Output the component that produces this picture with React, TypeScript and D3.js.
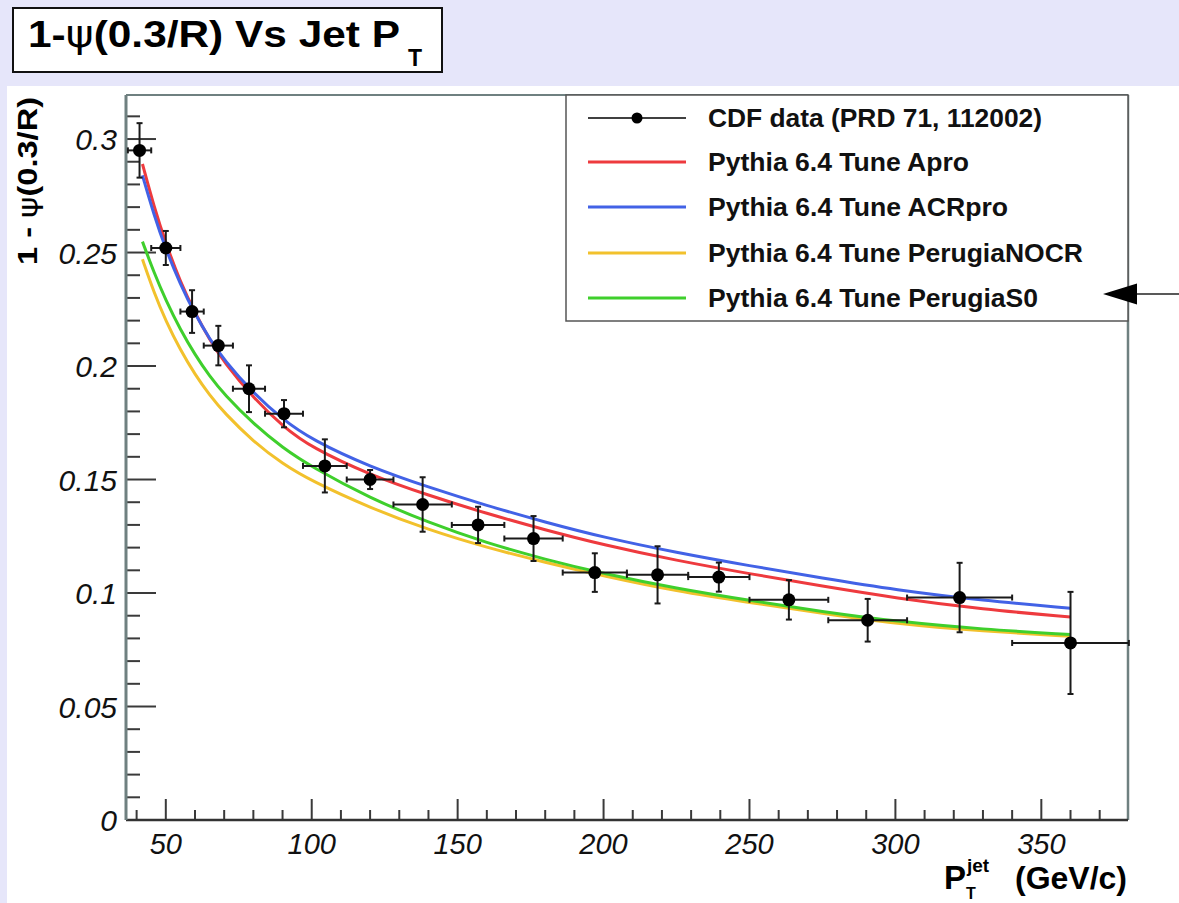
import React from 'react';
import * as d3 from 'd3';

// CDF data points
const ptCenters = [41, 50, 59, 68, 78.5, 90.5, 104.5, 120, 138, 157, 176, 197, 218.5, 239.5, 263.5, 290.5, 322, 360];
const ptHalfWidth = [4, 5, 4, 5, 5.5, 6.5, 7.5, 8, 10, 9, 10, 11, 10.5, 10.5, 13.5, 13.5, 18, 20];
const cdfValues = [0.295, 0.252, 0.224, 0.209, 0.190, 0.179, 0.156, 0.150, 0.139, 0.130, 0.124, 0.109, 0.108, 0.107, 0.097, 0.088, 0.098, 0.078];
const cdfErrors = [0.012, 0.0075, 0.0094, 0.0087, 0.0103, 0.006, 0.0117, 0.0042, 0.012, 0.008, 0.0099, 0.0085, 0.0126, 0.0064, 0.0087, 0.0094, 0.0153, 0.0225];

// Pythia tune curves
const curvePt = [42, 46, 50, 55, 60, 65, 70, 80, 90, 100, 120, 140, 160, 180, 200, 225, 250, 275, 300, 330, 360];
const tuneApro = [0.289, 0.270, 0.254, 0.237, 0.2234, 0.2116, 0.2015, 0.1860, 0.1735, 0.1640, 0.1520, 0.1430, 0.1350, 0.1278, 0.1212, 0.1143, 0.1085, 0.1030, 0.0978, 0.0928, 0.0894];
const tuneACRpro = [0.284, 0.2663, 0.2514, 0.2359, 0.2229, 0.212, 0.2026, 0.1880, 0.1765, 0.1675, 0.1555, 0.1466, 0.1385, 0.1312, 0.1245, 0.1178, 0.1120, 0.1066, 0.1014, 0.0967, 0.0933];
const tunePerugiaNOCR = [0.247, 0.2322, 0.2199, 0.207, 0.1963, 0.1872, 0.1794, 0.1667, 0.1569, 0.1493, 0.1375, 0.1278, 0.1200, 0.1135, 0.1075, 0.1008, 0.0958, 0.0911, 0.0865, 0.0832, 0.0809];
const tunePerugiaS0 = [0.2548, 0.241, 0.229, 0.216, 0.205, 0.1955, 0.1875, 0.1745, 0.1640, 0.1555, 0.1418, 0.1310, 0.1220, 0.1148, 0.1085, 0.1020, 0.0967, 0.0918, 0.0875, 0.0840, 0.0817];

const xMajorTicks = [50, 100, 150, 200, 250, 300, 350];
const yMajorTicks = [0, 0.05, 0.1, 0.15, 0.2, 0.25, 0.3];
const yTickLabels = ['0', '0.05', '0.1', '0.15', '0.2', '0.25', '0.3'];

const legendLabels = [
  'CDF data (PRD 71, 112002)',
  'Pythia 6.4 Tune Apro',
  'Pythia 6.4 Tune ACRpro',
  'Pythia 6.4 Tune PerugiaNOCR',
  'Pythia 6.4 Tune PerugiaS0',
];

const FONT = '"Liberation Sans", Arial, Helvetica, sans-serif';

export default function App() {
  const W = 1179;
  const H = 903;
  const left = 126, right = 1128, top = 95, bottom = 820;
  const x = d3.scaleLinear().domain([36.36, 379.7]).range([left, right]);
  const y = d3.scaleLinear().domain([0, 0.3194]).range([bottom, top]);

  const series = [
    { name: legendLabels[1], values: tuneApro, color: '#ee3a3e' },
    { name: legendLabels[2], values: tuneACRpro, color: '#4262e6' },
    { name: legendLabels[3], values: tunePerugiaNOCR, color: '#f2c12c' },
    { name: legendLabels[4], values: tunePerugiaS0, color: '#3fcf2c' },
  ];
  // draw order: yellow, green, red, blue
  const drawOrder = [2, 3, 0, 1];

  const line = d3
    .line<number>()
    .x((_, i) => x(curvePt[i]))
    .y((d) => y(d))
    .curve(d3.curveBasis);

  const xMinor = d3.range(40, 380, 10).filter((v) => v % 50 !== 0);
  const yMinor = d3.range(1, 32).map((v) => v / 100).filter((v) => Math.round(v * 100) % 5 !== 0 && v <= 0.3194);

  const axisColor = '#6f8080';
  const tickColor = '#3a3a3a';

  const legendRows = [118, 162, 207, 253, 298];
  const legendTextLen = [334, 261, 300, 375, 330];

  return (
    <svg
      width={W}
      height={H}
      viewBox={`0 0 ${W} ${H}`}
      style={{ position: 'absolute', left: 0, top: 0, display: 'block' }}
      fontFamily={FONT}
    >
      {/* backgrounds */}
      <rect x={0} y={0} width={W} height={H} fill="#e6e6fa" />
      <rect x={7} y={86} width={W - 7} height={H - 86} fill="#ffffff" />

      {/* title box */}
      <rect x={13} y={8} width={429} height={64} fill="#ffffff" stroke="#111" strokeWidth={2} />
      <text x={28} y={47} fontSize={37} fontWeight="bold" fill="#000" textLength={372} lengthAdjust="spacingAndGlyphs">
        1-<tspan fontFamily='"DejaVu Sans", sans-serif' fontWeight="normal">ψ</tspan>(0.3/R) Vs Jet P
      </text>
      <text x={408} y={66} fontSize={23} fontWeight="bold" fill="#000">T</text>

      {/* plot frame area */}
      <rect x={left} y={top} width={right - left} height={bottom - top} fill="#ffffff" />

      {/* x ticks */}
      {xMajorTicks.map((v) => (
        <line key={'xM' + v} x1={x(v)} x2={x(v)} y1={bottom} y2={bottom - 21} stroke={tickColor} strokeWidth={2} />
      ))}
      {xMinor.map((v) => (
        <line key={'xm' + v} x1={x(v)} x2={x(v)} y1={bottom} y2={bottom - 10} stroke={tickColor} strokeWidth={2} />
      ))}
      {/* y ticks */}
      {yMajorTicks.map((v) => (
        <line key={'yM' + v} x1={left} x2={left + 30} y1={y(v)} y2={y(v)} stroke={tickColor} strokeWidth={2} />
      ))}
      {yMinor.map((v) => (
        <line key={'ym' + v} x1={left} x2={left + 14} y1={y(v)} y2={y(v)} stroke={tickColor} strokeWidth={2} />
      ))}

      {/* frame */}
      <line x1={left} x2={right} y1={top} y2={top} stroke={axisColor} strokeWidth={2} />
      <line x1={right} x2={right} y1={top} y2={bottom} stroke={axisColor} strokeWidth={2.5} />
      <line x1={left} x2={right} y1={bottom} y2={bottom} stroke="#333" strokeWidth={2.5} />
      <line x1={left} x2={left} y1={top} y2={bottom} stroke={axisColor} strokeWidth={3} />

      {/* tick labels */}
      {xMajorTicks.map((v) => (
        <text key={'xl' + v} x={x(v)} y={854} fontSize={29} fontStyle="italic" textAnchor="middle" fill="#111">
          {v}
        </text>
      ))}
      {yMajorTicks.map((v, i) => (
        <text key={'yl' + v} x={117} y={y(v) + 11} fontSize={30} fontStyle="italic" textAnchor="end" fill="#111">
          {yTickLabels[i]}
        </text>
      ))}

      {/* axis titles */}
      <text
        transform={`translate(37,97) rotate(-90)`}
        fontSize={27}
        fontWeight="bold"
        textAnchor="end"
        fill="#000"
        textLength={168}
        lengthAdjust="spacingAndGlyphs"
      >
        1 - <tspan fontFamily='"DejaVu Sans", sans-serif' fontWeight="normal">ψ</tspan>(0.3/R)
      </text>
      <text x={944} y={889} fontSize={33} fontWeight="bold" fill="#000">P</text>
      <text x={967} y={872} fontSize={19} fontWeight="bold" fill="#000">jet</text>
      <text x={966} y={899} fontSize={16} fontWeight="bold" fill="#000">T</text>
      <text x={1127} y={889} fontSize={32} fontWeight="bold" textAnchor="end" fill="#000">(GeV/c)</text>

      {/* curves */}
      {drawOrder.map((k) => (
        <path key={series[k].name} d={line(series[k].values) || ''} fill="none" stroke={series[k].color} strokeWidth={3} />
      ))}

      {/* data points with error bars */}
      {ptCenters.map((pt, i) => {
        const cx = x(pt);
        const cy = y(cdfValues[i]);
        const x0 = x(pt - ptHalfWidth[i]);
        const x1 = x(pt + ptHalfWidth[i]);
        const y0 = y(cdfValues[i] + cdfErrors[i]);
        const y1 = y(cdfValues[i] - cdfErrors[i]);
        return (
          <g key={'pt' + i} stroke="#1a1a1a" strokeWidth={2}>
            <line x1={x0} x2={x1} y1={cy} y2={cy} />
            <line x1={cx} x2={cx} y1={y0} y2={y1} />
            <line x1={x0} x2={x0} y1={cy - 3} y2={cy + 3} />
            <line x1={x1} x2={x1} y1={cy - 3} y2={cy + 3} />
            <line x1={cx - 3} x2={cx + 3} y1={y0} y2={y0} />
            <line x1={cx - 3} x2={cx + 3} y1={y1} y2={y1} />
            <circle cx={cx} cy={cy} r={6.5} fill="#000" stroke="none" />
          </g>
        );
      })}

      {/* legend */}
      <rect x={566} y={top} width={right - 566} height={321 - top} fill="#ffffff" stroke="#555" strokeWidth={1.5} />
      <line x1={588} x2={686} y1={legendRows[0]} y2={legendRows[0]} stroke="#000" strokeWidth={1.5} />
      <circle cx={637} cy={legendRows[0]} r={5.5} fill="#000" />
      {series.map((s, i) => (
        <line key={'lg' + i} x1={588} x2={686} y1={legendRows[i + 1]} y2={legendRows[i + 1]} stroke={s.color} strokeWidth={3} />
      ))}
      {legendLabels.map((t, i) => (
        <text
          key={'lt' + i}
          x={708}
          y={legendRows[i] + 9}
          fontSize={25}
          fontWeight="bold"
          fill="#111"
          textLength={legendTextLen[i]}
          lengthAdjust="spacingAndGlyphs"
        >
          {t}
        </text>
      ))}

      {/* arrow */}
      <line x1={1137} x2={1179} y1={294} y2={294} stroke="#222" strokeWidth={1.5} />
      <path d="M1103,294 L1137,283.5 L1137,304.5 Z" fill="#000" />
    </svg>
  );
}
